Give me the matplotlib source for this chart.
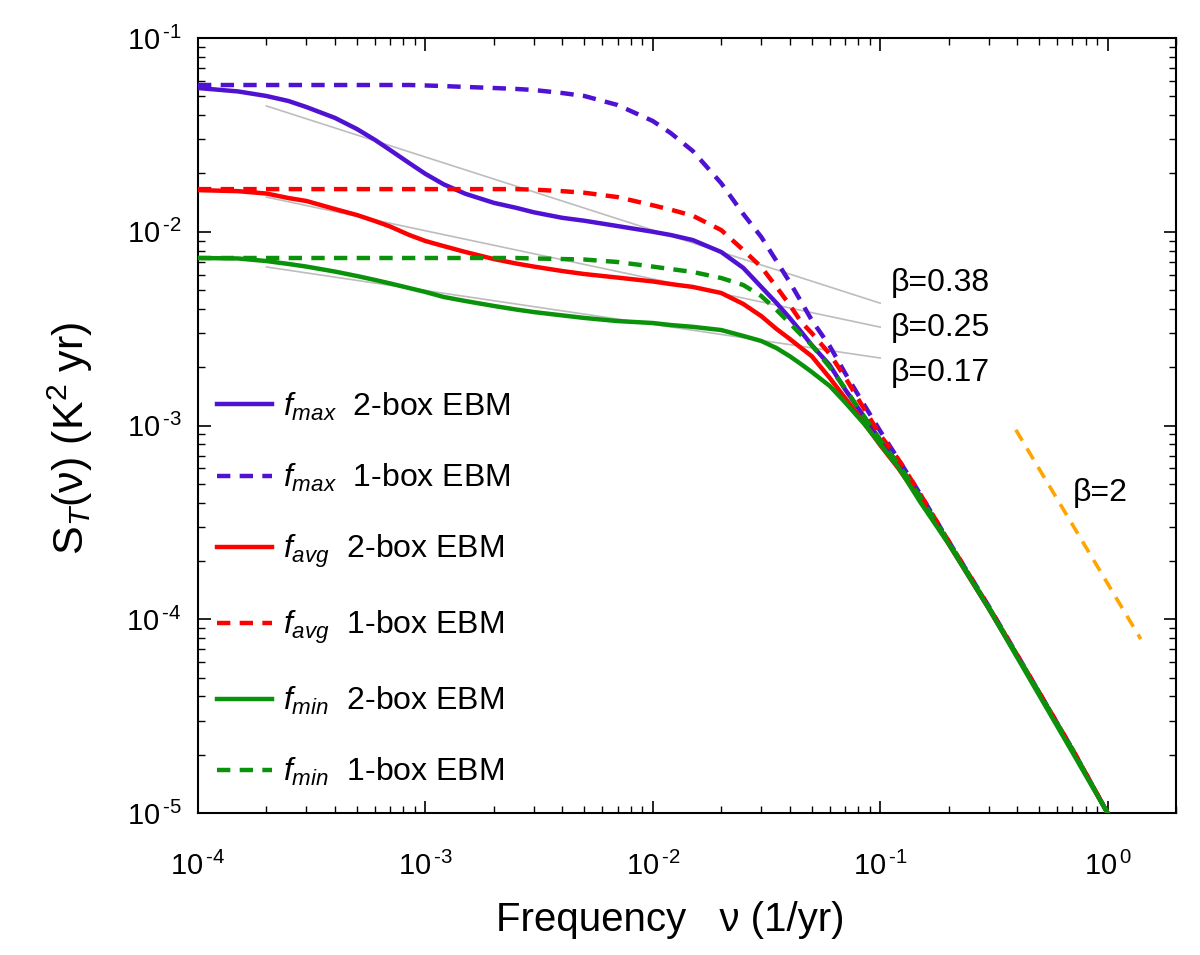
import numpy as np
import matplotlib
matplotlib.use('Agg')
import matplotlib.pyplot as plt
from matplotlib.ticker import LogLocator, FuncFormatter, NullFormatter

plt.rcParams['font.family'] = ['Liberation Sans', 'DejaVu Sans']
plt.rcParams['mathtext.fontset'] = 'custom'
plt.rcParams['mathtext.rm'] = 'Liberation Sans'
plt.rcParams['mathtext.it'] = 'Liberation Sans:italic'
plt.rcParams['mathtext.bf'] = 'Liberation Sans:bold'

freq = [1e-4, 1.5e-4, 2e-4, 2.5e-4, 3e-4, 4e-4, 5e-4, 6e-4, 7e-4, 8.5e-4,
        1e-3, 1.2e-3, 1.5e-3, 2e-3, 2.5e-3, 3e-3, 4e-3, 5e-3, 7e-3,
        1e-2, 1.2e-2, 1.5e-2, 2e-2, 2.5e-2, 3e-2, 3.5e-2, 4e-2, 4.5e-2, 5e-2,
        6e-2, 7e-2, 8.5e-2, 0.1, 0.12, 0.15, 0.2, 0.3, 0.5, 0.7, 1.0]

# spectra S_T (K^2 yr)
fmax_2box = [0.0552, 0.0530, 0.0502, 0.0473, 0.0440, 0.0387, 0.0339, 0.0298,
             0.0264, 0.0226, 0.0199, 0.0176, 0.0157, 0.0141, 0.0133, 0.0126,
             0.0118, 0.0114, 0.0107, 0.0100, 0.00962, 0.00906, 0.00786,
             0.00651, 0.00519, 0.00429, 0.00359, 0.00304, 0.00260, 0.00205,
             0.00154, 0.00111, 8.42e-4, 6.33e-4, 4.33e-4, 2.47e-4, 1.14e-4,
             4.16e-5, 2.11e-5, 1.0e-5]
fmax_1box = [0.0572, 0.0572, 0.0572, 0.0572, 0.0572, 0.0572, 0.0572, 0.0572,
             0.0572, 0.0572, 0.0569, 0.0565, 0.0559, 0.0552, 0.0546, 0.0539,
             0.0520, 0.0502, 0.0451, 0.0373, 0.0323, 0.0261, 0.0178, 0.01235,
             0.00940, 0.00706, 0.00550, 0.00434, 0.00350, 0.00257, 0.00187,
             0.00128, 9.37e-4, 6.72e-4, 4.43e-4, 2.53e-4, 1.17e-4, 4.20e-5,
             2.14e-5, 1.0e-5]
favg_2box = [0.0164, 0.0162, 0.01575, 0.01493, 0.01441, 0.01310, 0.01220,
             0.01136, 0.01064, 0.00962, 0.00896, 0.00844, 0.00786, 0.00723,
             0.00686, 0.00661, 0.00627, 0.00605, 0.00580, 0.00554, 0.00537,
             0.00519, 0.00483, 0.00424, 0.00367, 0.00315, 0.00280, 0.00251,
             0.00228, 0.00176, 0.00139, 0.00103, 7.93e-4, 6.03e-4, 4.17e-4,
             2.45e-4, 1.14e-4, 4.16e-5, 2.11e-5, 1.0e-5]
favg_1box = [0.0166, 0.0166, 0.0166, 0.0166, 0.0166, 0.0166, 0.0166, 0.0166,
             0.0166, 0.0166, 0.0166, 0.0166, 0.0166, 0.0166, 0.0166, 0.0165,
             0.0162, 0.0159, 0.0151, 0.0137, 0.0130, 0.0121, 0.0102, 0.00805,
             0.00658, 0.00519, 0.00419, 0.00342, 0.00300, 0.00234, 0.00178,
             0.00122, 8.93e-4, 6.72e-4, 4.43e-4, 2.53e-4, 1.16e-4, 4.20e-5,
             2.14e-5, 1.0e-5]
fmin_2box = [0.00732, 0.00728, 0.00706, 0.00682, 0.00661, 0.00623, 0.00591,
             0.00564, 0.00541, 0.00512, 0.00489, 0.00461, 0.00439, 0.00414,
             0.00397, 0.00385, 0.00370, 0.00359, 0.00346, 0.00338, 0.00330,
             0.00323, 0.00311, 0.00290, 0.00273, 0.00251, 0.00228, 0.00207,
             0.00189, 0.00160, 0.00132, 0.00102, 8.02e-4, 6.11e-4, 4.03e-4,
             2.45e-4, 1.14e-4, 4.06e-5, 2.06e-5, 1.0e-5]
fmin_1box = [0.00732, 0.00732, 0.00732, 0.00732, 0.00732, 0.00732, 0.00732,
             0.00732, 0.00732, 0.00732, 0.00732, 0.00732, 0.00732, 0.00732,
             0.00732, 0.00728, 0.00723, 0.00719, 0.00698, 0.00661, 0.00642,
             0.00620, 0.00577, 0.00531, 0.00466, 0.00395, 0.00338, 0.00293,
             0.00260, 0.00200, 0.00156, 0.00111, 8.42e-4, 6.33e-4, 4.28e-4,
             2.50e-4, 1.16e-4, 4.18e-5, 2.13e-5, 1.0e-5]

# grey power-law guides (endpoints)
guide_x = [2e-4, 0.1]
guide_beta = [0.38, 0.25, 0.17]
guide_y = [[0.0446, 0.00428], [0.0151, 0.00322], [0.00658, 0.00223]]

# beta=2 reference slope
b2_x = [0.395, 1.40]
b2_y = [9.5e-4, 7.9e-5]

blue = '#5012D2'
red = '#FF0000'
green = '#0A930A'

fig = plt.figure(figsize=(12, 9.55), dpi=100)
ax = fig.add_axes([0.165, 0.1487, 0.815, 0.8115])

lw = 3.2
dash = (3.0, 2.1)
for gy in guide_y:
    ax.plot(guide_x, gy, color='#BDBDBD', lw=1.2, zorder=1)

l1, = ax.plot(freq, fmax_2box, color=blue, lw=lw, zorder=3)
l2, = ax.plot(freq, fmax_1box, color=blue, lw=lw, ls=(0, dash), zorder=3)
l3, = ax.plot(freq, favg_2box, color=red, lw=lw, zorder=3)
l4, = ax.plot(freq, favg_1box, color=red, lw=lw, ls=(0, dash), zorder=3)
l5, = ax.plot(freq, fmin_2box, color=green, lw=lw, zorder=3)
l6, = ax.plot(freq, fmin_1box, color=green, lw=lw, ls=(0, dash), zorder=3)

ax.plot(b2_x, b2_y, color='#FFA500', lw=2.6, ls=(0, (3.5, 2.5)), zorder=2)

ax.set_xscale('log')
ax.set_yscale('log')
ax.set_xlim(1e-4, 2.0)
ax.set_ylim(1e-5, 1e-1)


def pow_label(v, pos):
    e = int(round(np.log10(v)))
    s = str(e).replace('-', '\u2010')
    return r'$\mathregular{10^{\,%s}}$' % s


fmt = FuncFormatter(pow_label)
for axis in (ax.xaxis, ax.yaxis):
    axis.set_major_locator(LogLocator(base=10, numticks=10))
    axis.set_minor_locator(LogLocator(base=10, subs=np.arange(2, 10), numticks=50))
    axis.set_major_formatter(fmt)
    axis.set_minor_formatter(NullFormatter())

ax.tick_params(which='both', direction='in', top=True, right=True)
ax.tick_params(which='major', length=9, width=1.2, labelsize=21)
ax.tick_params(which='minor', length=5, width=1.0)
ax.tick_params(axis='x', pad=28)
ax.tick_params(axis='y', pad=12)
for s in ax.spines.values():
    s.set_linewidth(1.5)

ax.set_xlabel('Frequency   ν (1/yr)', fontsize=29)
ax.xaxis.set_label_coords(0.483, -0.113)
ax.set_ylabel(r'S$_{\mathit{T}}$(ν) (K$^{2}$ yr)', fontsize=31)
ax.yaxis.set_label_coords(-0.105, 0.484)

ax.text(0.111, 0.00544, 'β=0.38', fontsize=23, va='center', ha='left')
ax.text(0.111, 0.00318, 'β=0.25', fontsize=23, va='center', ha='left')
ax.text(0.111, 0.00187, 'β=0.17', fontsize=23, va='center', ha='left')
ax.text(0.70, 4.49e-4, 'β=2', fontsize=23, va='center', ha='left')

labels = [r'$f_{max}$  2-box EBM', r'$f_{max}$  1-box EBM',
          r'$f_{avg}$  2-box EBM', r'$f_{avg}$  1-box EBM',
          r'$f_{min}$  2-box EBM', r'$f_{min}$  1-box EBM']
ax.legend([l1, l2, l3, l4, l5, l6], labels, loc='upper left',
          bbox_to_anchor=(0.019, 0.545), frameon=False, fontsize=23,
          handlelength=1.75, handletextpad=0.33, labelspacing=1.22,
          borderaxespad=0, borderpad=0)

fig.savefig('out.png', dpi=100)
